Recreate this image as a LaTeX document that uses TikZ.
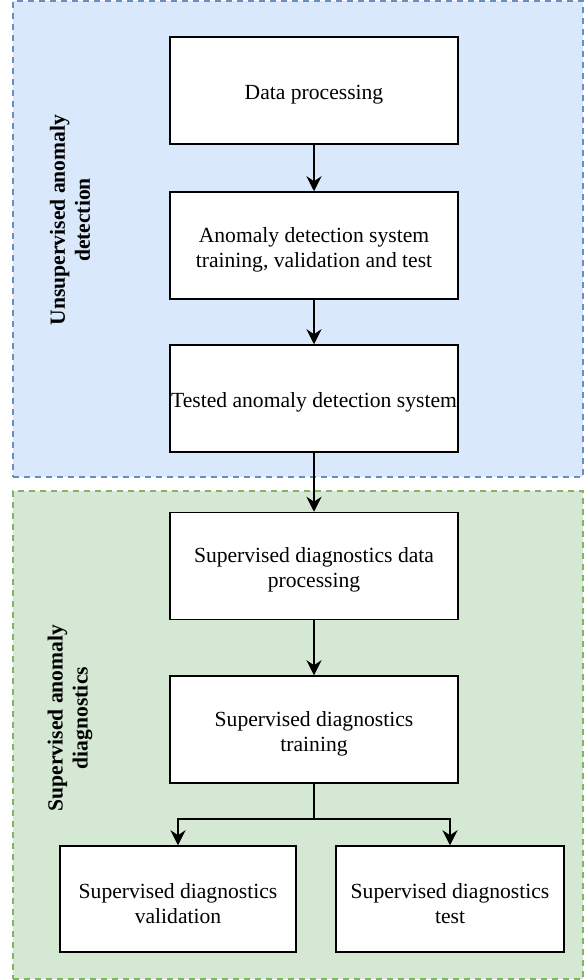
\documentclass[tikz,border=0pt]{standalone}
\usepackage{fontspec}
\setmainfont{Liberation Serif}
\usetikzlibrary{arrows.meta}

\definecolor{unsupfill}{HTML}{DAE8FC}
\definecolor{unsupline}{HTML}{6C8EBF}
\definecolor{supfill}{HTML}{D5E8D4}
\definecolor{supline}{HTML}{82B366}

\begin{document}
\begin{tikzpicture}[x=1pt,y=-1pt]
\useasboundingbox (0,0) rectangle (588,980);

\begin{scope}[every node/.style={draw,dash pattern=on 6pt off 5pt,line width=1.4pt,minimum width=570pt,inner sep=0pt}]
    \node[fill=unsupfill,draw=unsupline,minimum height=476pt] (unsup) at (298,239) {};
    \node[fill=supfill,draw=supline,minimum height=488pt] (sup) at (298,735) {};
\end{scope}

\begin{scope}[every node/.style={font=\bfseries\fontsize{21.6}{25}\selectfont,align=center,rotate=90}]
    \node (unsup_label) at (70,220) {Unsupervised anomaly\\detection};
    \node (sup_label) at (70,718) {Supervised anomaly\\diagnostics};
\end{scope}

\begin{scope}[onerow/.style={text height=22.5pt},
              tworow/.style={text height=48.5pt},
              every node/.style={draw,line width=1.5pt,fill=white,minimum width=288pt,minimum height=107pt,
              align=center,inner sep=1pt,font=\fontsize{21.6}{25}\selectfont}]
    \node[onerow] (data_proc) at (314,90.5) {Data processing};
	\node[tworow] (ad_train) at (314,245.5) {Anomaly detection system\\training, validation and test};
	\node[onerow] (ad_tested) at (314,398.5) {Tested anomaly detection system};
	\node[tworow] (sd_proc) at (314,566) {Supervised diagnostics data\\processing};
	\node[tworow] (sd_train) at (314,729.5) {Supervised diagnostics\\training};
	\node[tworow,minimum width=236pt,minimum height=106pt] (sd_val) at (178,899) {Supervised diagnostics\\validation};
	\node[tworow,minimum width=228pt,minimum height=106pt] (sd_test) at (450,899) {Supervised diagnostics\\test};
\end{scope}

\coordinate (fork) at (314,819);

\begin{scope}[>={Stealth[black,length=15pt,width=15pt,inset=5pt]},
              every edge/.style={draw=black,line width=1.8pt}]
    \path [->] (data_proc) edge (ad_train);
    \path [->] (ad_train) edge (ad_tested);
    \path [->] (ad_tested) edge (sd_proc);
    \path [->] (sd_proc) edge (sd_train);

    \path (sd_train) edge (fork);
    \draw [->,line width=1.8pt] (fork) -| (sd_val);
    \draw [->,line width=1.8pt] (fork) -| (sd_test);
\end{scope}
\end{tikzpicture}
\end{document}
